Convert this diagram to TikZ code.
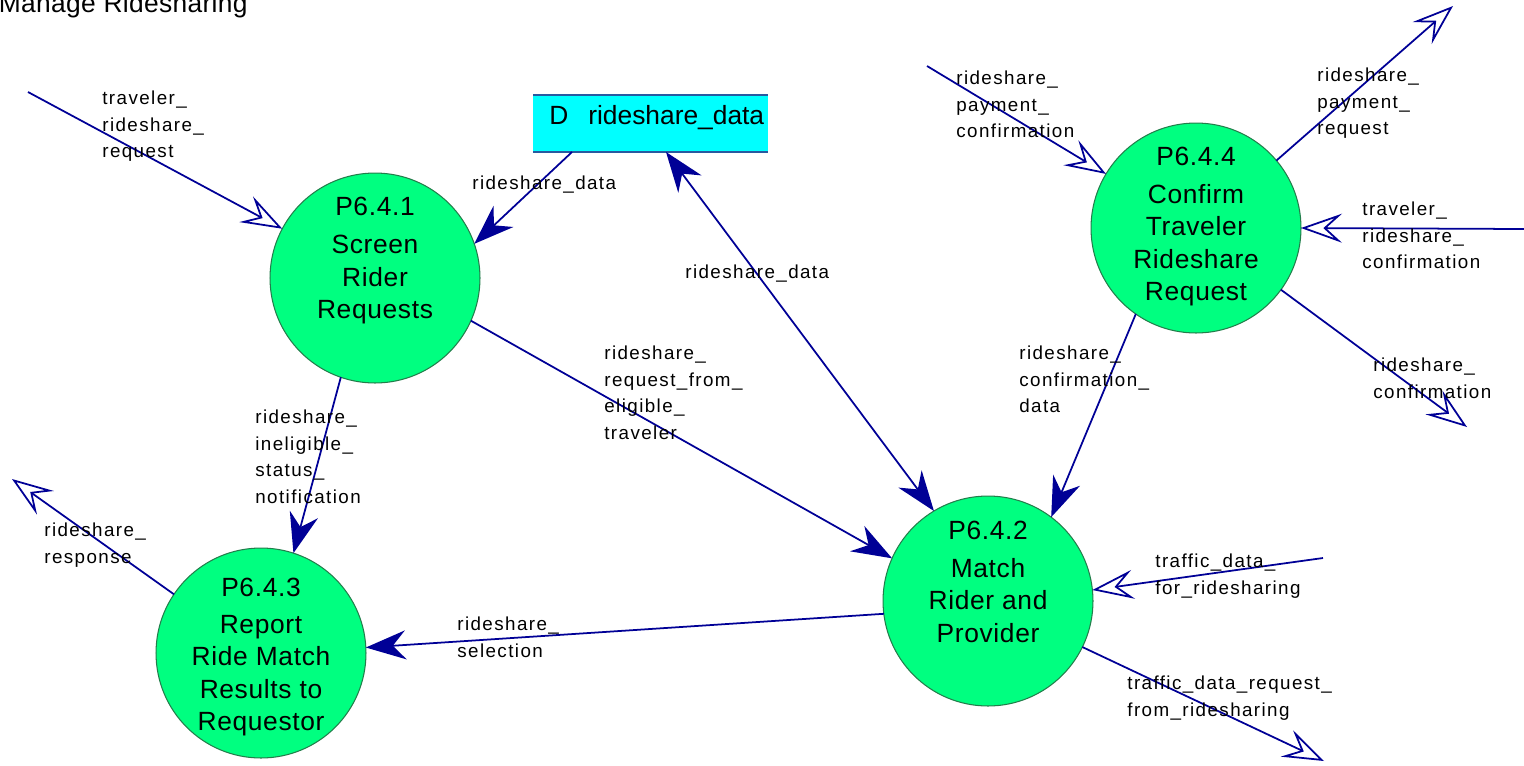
\documentclass[tikz,border=0pt]{standalone}
\usepackage{fontspec}
\setmainfont{Liberation Sans}
\newfontfamily\lblfont[LetterSpace=7.5]{Liberation Sans}
\newfontfamily\procfont[LetterSpace=2.5]{Liberation Sans}
\newfontfamily\titlefont[LetterSpace=1.3]{Liberation Sans}
\usetikzlibrary{arrows.meta}
\definecolor{flowc}{RGB}{0,0,150}
\definecolor{procfill}{RGB}{0,255,128}
\definecolor{procedge}{RGB}{35,125,75}
\definecolor{storefill}{RGB}{0,255,255}
\definecolor{storeedge}{RGB}{40,90,160}
\begin{document}
\begin{tikzpicture}[x=0.02cm,y=-0.02cm,
  proc/.style={circle, fill=procfill, draw=procedge, line width=0.6pt, minimum size=4.2cm, inner sep=0pt, outer sep=0pt},
  pid/.style={anchor=base, inner sep=0pt, font=\procfont\fontsize{15}{18.4}\selectfont},
  pname/.style={anchor=north, align=center, inner sep=0pt, font=\procfont\fontsize{15}{18.4}\selectfont},
  lbl/.style={anchor=north west, align=left, inner sep=0pt, font=\lblfont\fontsize{10.7}{15}\selectfont},
  itip/.tip={Stealth[length=0.8cm,width=0.58cm,inset=0.26cm]},
  otip/.tip={Stealth[open,length=0.82cm,width=0.58cm,inset=0.32cm]},
  iflow/.style={draw=flowc, line width=1pt, -itip},
  ibid/.style={draw=flowc, line width=1pt, itip-itip},
  eflow/.style={draw=flowc, line width=1pt, -otip},
]
\useasboundingbox (0,0) rectangle (1524,765);

% title
\node[anchor=base east, inner sep=0pt, font=\titlefont\fontsize{15}{18}\selectfont] (title) at (248,12) {Manage Ridesharing};

% data store
\node[fill=storefill, minimum width=4.7cm, minimum height=1.14cm, inner sep=0pt, outer sep=0pt, anchor=north west] (store) at (533,95) {};
\draw[storeedge, line width=0.8pt] (store.north west) -- (store.north east);
\draw[storeedge, line width=0.8pt] (store.south west) -- (store.south east);
\node[anchor=base west, inner sep=0pt, font=\fontsize{15}{18}\selectfont] (storeD) at (549,124) {D};
\node[anchor=base west, inner sep=0pt, font=\fontsize{15}{18}\selectfont] (storeT) at (588,124) {rideshare\_data};
\coordinate (s1) at (572,152);
\coordinate (s2) at (666,152);

% processes
\node[proc] (c1) at (375,278) {};
\node[pid] (c1id) at (375,215) {P6.4.1};
\node[pname] (c1n) at (375,235) {Screen\\Rider\\Requests};

\node[proc] (c2) at (988,601) {};
\node[pid] (c2id) at (988,539) {P6.4.2};
\node[pname] (c2n) at (988,558) {Match\\Rider and\\Provider};

\node[proc] (c3) at (261,653) {};
\node[pid] (c3id) at (261,596) {P6.4.3};
\node[pname] (c3n) at (261,615) {Report\\Ride Match\\Results to\\Requestor};

\node[proc] (c4) at (1196,228) {};
\node[pid] (c4id) at (1196,165) {P6.4.4};
\node[pname] (c4n) at (1196,184) {Confirm\\Traveler\\Rideshare\\Request};

% external end points
\coordinate (e1) at (28,92);
\coordinate (e6) at (12,479);
\coordinate (e8) at (927,66);
\coordinate (e9) at (1453,6);
\coordinate (e10) at (1524,229);
\coordinate (e11) at (1467,427);
\coordinate (e13) at (1323,558);
\coordinate (e14) at (1324,761);

% flows
\draw[eflow] (e1) -- (c1.152);
\draw[iflow] (s1) -- (c1.19.5);
\draw[ibid] (s2) -- (c2.121.5);
\draw[iflow] (c1.-24.4) -- (c2.156);
\draw[iflow] (c1.-109.7) -- (c3.72);
\draw[eflow] (c3.146.8) -- (e6);
\draw[iflow] (c2.187.5) -- (c3.3.3);
\draw[eflow] (e8) -- (c4.149);
\draw[eflow] (c4.40.7) -- (e9);
\draw[eflow] (e10) -- (c4.0);
\draw[eflow] (c4.-36.4) -- (e11);
\draw[iflow] (c4.-125.7) -- (c2.53.8);
\draw[eflow] (e13) -- (c2.6.2);
\draw[eflow] (c2.-26.3) -- (e14);

% labels
\node[lbl] (l1) at (102,91) {traveler\_\\rideshare\_\\request};
\node[lbl] (l2) at (472,176) {rideshare\_data};
\node[lbl] (l3) at (685,265) {rideshare\_data};
\node[lbl] (l4) at (604,346) {rideshare\_\\request\_from\_\\eligible\_\\traveler};
\node[lbl] (l5) at (255,410) {rideshare\_\\ineligible\_\\status\_\\notification};
\node[lbl] (l6) at (44,523) {rideshare\_\\response};
\node[lbl] (l7) at (457,617) {rideshare\_\\selection};
\node[lbl] (l8) at (956,71) {rideshare\_\\payment\_\\confirmation};
\node[lbl] (l9) at (1317,68) {rideshare\_\\payment\_\\request};
\node[lbl] (l10) at (1362,202) {traveler\_\\rideshare\_\\confirmation};
\node[lbl] (l11) at (1373,358) {rideshare\_\\confirmation};
\node[lbl] (l12) at (1019,346) {rideshare\_\\confirmation\_\\data};
\node[lbl] (l13) at (1155,554) {traffic\_data\_\\for\_ridesharing};
\node[lbl] (l14) at (1127,676) {traffic\_data\_request\_\\from\_ridesharing};
\end{tikzpicture}
\end{document}
